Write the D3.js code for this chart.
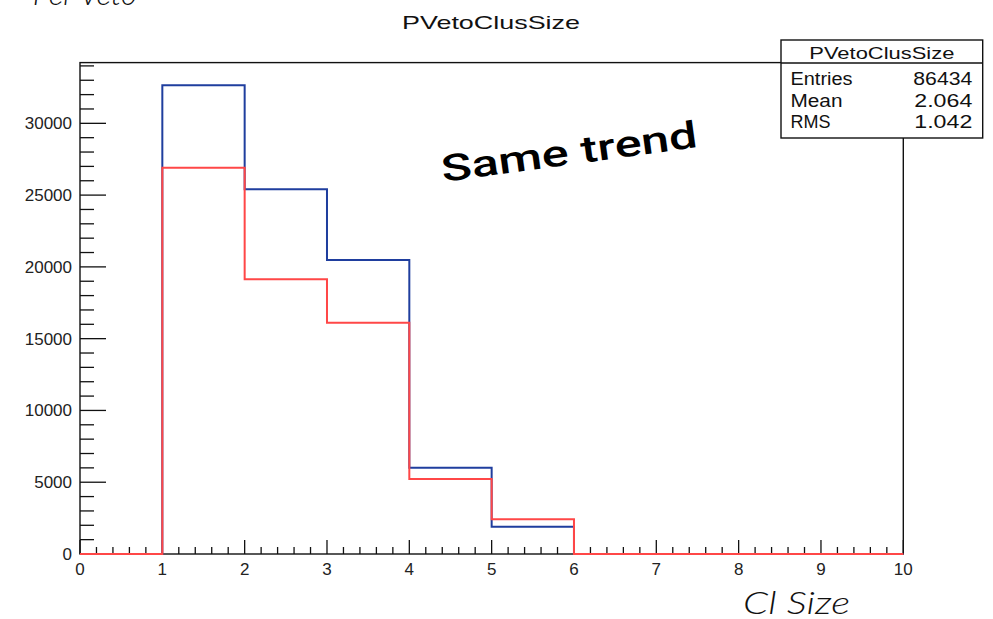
<!DOCTYPE html>
<html>
<head>
<meta charset="utf-8">
<script src="https://cdn.jsdelivr.net/npm/d3@7/dist/d3.min.js"></script>
<style>
  html, body { margin: 0; padding: 0; background: #fff; }
  svg { display: block; }
  text { font-family: "Liberation Sans", Arial, Helvetica, sans-serif; fill: #111; }
</style>
</head>
<body>
<svg id="chart" width="993" height="619"></svg>
<script>
// Cluster size histogram: bins of width 1 from 0 to 10
const binEdges = [0, 1, 2, 3, 4, 5, 6, 7, 8, 9, 10];
const blueCounts = [0, 32650, 25400, 20480, 6010, 1894, 0, 0, 0, 0];
const redCounts  = [0, 26900, 19130, 16110, 5230, 2420, 0, 0, 0, 0];
const xTickLabels = ["0", "1", "2", "3", "4", "5", "6", "7", "8", "9", "10"];
const yTickValues = [0, 5000, 10000, 15000, 20000, 25000, 30000];
const histTitle = "PVetoClusSize";
const yMax = 34230;

const svg = d3.select("#chart");

const frame = { left: 80, right: 903.3, top: 62.6, bottom: 554 };

const x = d3.scaleLinear().domain([0, 10]).range([frame.left, frame.right]);
const y = d3.scaleLinear().domain([0, yMax]).range([frame.bottom, frame.top]);

// Frame
svg.append("rect")
  .attr("x", frame.left).attr("y", frame.top)
  .attr("width", frame.right - frame.left).attr("height", frame.bottom - frame.top)
  .attr("fill", "none").attr("stroke", "#111").attr("stroke-width", 1.4);

// X axis ticks (pointing into the frame)
const xMinor = d3.range(0, 10.0001, 0.2);
svg.append("g").selectAll("line").data(xMinor).join("line")
  .attr("x1", d => x(d)).attr("x2", d => x(d))
  .attr("y1", frame.bottom)
  .attr("y2", d => frame.bottom - (Math.abs(d - Math.round(d)) < 1e-6 ? 14 : 7))
  .attr("stroke", "#111").attr("stroke-width", 1.3);

svg.append("g").selectAll("text").data(xTickLabels).join("text")
  .attr("x", (d, i) => x(binEdges[i]))
  .attr("y", 575)
  .attr("text-anchor", "middle")
  .attr("font-size", 17)
  .style("fill", "#222")
  .text(d => d);

// Y axis ticks (pointing into the frame)
const yMinor = d3.range(0, yMax, 1000);
svg.append("g").selectAll("line").data(yMinor).join("line")
  .attr("y1", d => y(d)).attr("y2", d => y(d))
  .attr("x1", frame.left)
  .attr("x2", d => frame.left + (d % 5000 === 0 ? 26 : 14))
  .attr("stroke", "#111").attr("stroke-width", 1.3);

svg.append("g").selectAll("text").data(yTickValues).join("text")
  .attr("x", 72)
  .attr("y", d => y(d) + 6)
  .attr("text-anchor", "end")
  .attr("font-size", 17)
  .style("fill", "#222")
  .text(d => d);

// Histogram outlines
const step = d3.line()
  .x(d => x(d[0]))
  .y(d => y(d[1]))
  .curve(d3.curveStepAfter);

function outline(counts) {
  const pts = counts.map((c, i) => [binEdges[i], c]);
  pts.push([binEdges[binEdges.length - 1], counts[counts.length - 1]]);
  return pts;
}

svg.append("path").attr("d", step(outline(blueCounts)))
  .attr("fill", "none").attr("stroke", "#1f3e9e").attr("stroke-width", 2);
svg.append("path").attr("d", step(outline(redCounts)))
  .attr("fill", "none").attr("stroke", "#ff4747").attr("stroke-width", 2);

// Title
svg.append("text")
  .attr("x", 491).attr("y", 29)
  .attr("text-anchor", "middle")
  .attr("font-size", 19)
  .attr("textLength", 178).attr("lengthAdjust", "spacingAndGlyphs")
  .text(histTitle);

// Statistics box (entries, mean and RMS from the blue histogram)
const entries = d3.sum(blueCounts);
const mean = d3.sum(blueCounts, (c, i) => c * binEdges[i]) / entries;
const rms = Math.sqrt(d3.sum(blueCounts, (c, i) => c * binEdges[i] * binEdges[i]) / entries - mean * mean);

const box = { x0: 781, y0: 40, x1: 982.7, y1: 138, sep: 63 };
svg.append("rect")
  .attr("x", box.x0).attr("y", box.y0)
  .attr("width", box.x1 - box.x0).attr("height", box.y1 - box.y0)
  .attr("fill", "#fff").attr("stroke", "#111").attr("stroke-width", 1.4);
svg.append("line")
  .attr("x1", box.x0).attr("x2", box.x1).attr("y1", box.sep).attr("y2", box.sep)
  .attr("stroke", "#111").attr("stroke-width", 1.4);
svg.append("text")
  .attr("x", (box.x0 + box.x1) / 2).attr("y", 59)
  .attr("text-anchor", "middle").attr("font-size", 17)
  .attr("textLength", 145).attr("lengthAdjust", "spacingAndGlyphs")
  .text(histTitle);

const statRows = [
  { label: "Entries", value: d3.format("d")(entries), y: 85, lw: 62, vw: 59 },
  { label: "Mean", value: mean.toFixed(3), y: 106.7, lw: 52, vw: 58 },
  { label: "RMS", value: rms.toFixed(3), y: 128.3, lw: 40, vw: 58 }
];
const rows = svg.append("g");
statRows.forEach(r => {
  rows.append("text").attr("x", 790.5).attr("y", r.y).attr("font-size", 17.5)
    .attr("textLength", r.lw).attr("lengthAdjust", "spacingAndGlyphs").text(r.label);
  rows.append("text").attr("x", 972.3).attr("y", r.y).attr("font-size", 17.5)
    .attr("text-anchor", "end")
    .attr("textLength", r.vw).attr("lengthAdjust", "spacingAndGlyphs").text(r.value);
});

// Annotations
svg.append("text")
  .attr("transform", "translate(443,182) rotate(-7.8)")
  .attr("font-size", 37).attr("font-weight", 500)
  .attr("textLength", 258).attr("lengthAdjust", "spacingAndGlyphs")
  .style("font-family", "Roboto, 'Liberation Sans', sans-serif")
  .style("fill", "#000")
  .text("Same trend");

svg.append("text")
  .attr("x", 743).attr("y", 614)
  .attr("font-size", 31).attr("font-style", "italic").attr("font-weight", 300)
  .style("font-family", "Lato, 'Open Sans', 'Liberation Sans', sans-serif")
  .attr("textLength", 107).attr("lengthAdjust", "spacingAndGlyphs")
  .text("Cl Size");

svg.append("text")
  .attr("x", 137).attr("y", 5)
  .attr("text-anchor", "end")
  .attr("font-size", 31).attr("font-style", "italic").attr("font-weight", 300)
  .style("font-family", "Lato, 'Open Sans', 'Liberation Sans', sans-serif")
  .text("Per Veto");
</script>
</body>
</html>
